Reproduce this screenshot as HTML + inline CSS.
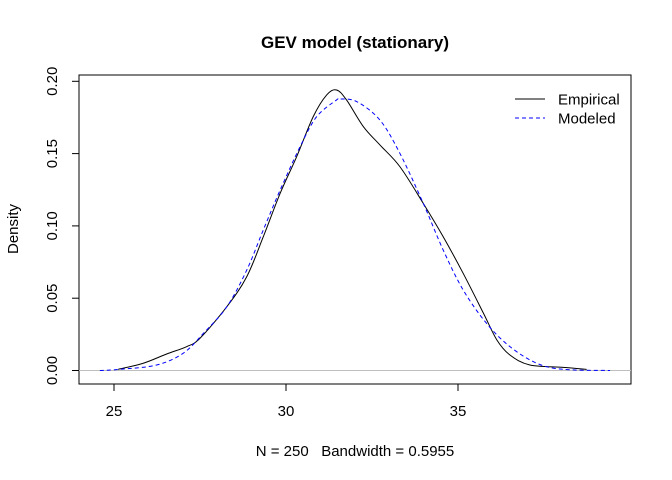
<!DOCTYPE html>
<html><head><meta charset="utf-8"><style>
body{margin:0;background:#fff}
svg{display:block;font-family:"Liberation Sans",Arial,sans-serif}
</style></head><body>
<svg width="672" height="480">
<text x="355" y="48" text-anchor="middle" font-size="17" font-weight="bold">GEV model (stationary)</text>
<rect x="79" y="75" width="552" height="309" fill="none" stroke="#000" stroke-width="1"/>
<g id="xaxis"></g>
<g id="yaxis"></g>
<line id="zero" stroke="#bebebe" stroke-width="1"/>
<path id="emp" fill="none" stroke="#000" stroke-width="1"/>
<path id="mod" fill="none" stroke="#0000ff" stroke-width="1" stroke-dasharray="4,3"/>
<text x="18" y="229" transform="rotate(-90 18 229)" text-anchor="middle" font-size="15">Density</text>
<text x="355" y="456" text-anchor="middle" font-size="15" style="white-space:pre">N = 250   Bandwidth = 0.5955</text>
<g>
<line x1="515" y1="99" x2="545" y2="99" stroke="#000"/>
<text x="558" y="104.5" font-size="15">Empirical</text>
<line x1="515" y1="118" x2="545" y2="118" stroke="#0000ff" stroke-dasharray="4,3"/>
<text x="558" y="123.5" font-size="15">Modeled</text>
</g>
</svg>
<script>
const xTicks=[25,30,35];
const yTicks=[0,0.05,0.10,0.15,0.20];
const yTickLabels=["0.00","0.05","0.10","0.15","0.20"];
const empX=[25.12,25.85,26.53,27.11,27.5,28.28,28.86,29.34,29.83,30.31,30.79,31.18,31.47,31.76,32.25,32.73,33.31,33.99,34.57,35.15,35.74,36.13,36.51,37.09,38.06,38.74];
const empY=[0.0008,0.005,0.0114,0.0165,0.0223,0.0441,0.0649,0.0925,0.1225,0.1479,0.1755,0.1905,0.194,0.1871,0.1686,0.156,0.141,0.1156,0.0925,0.0672,0.0396,0.0211,0.0107,0.0038,0.0022,0.0008];
const modX=[24.59,25.17,26.24,27.01,27.6,28.28,28.86,29.34,29.83,30.41,30.89,31.47,31.57,32.06,32.73,33.31,33.99,34.57,35.15,35.83,36.51,37.29,38.06,39.42];
const modY=[0,0.0008,0.0038,0.0119,0.0257,0.0441,0.0695,0.0972,0.1248,0.1548,0.1755,0.1871,0.1878,0.1859,0.1732,0.1502,0.1156,0.0833,0.0557,0.0326,0.0165,0.005,0.0008,0];
const X=v=>286+(v-30)*34.4;
const Y=v=>370.5-v/0.05*72.3;
const NS="http://www.w3.org/2000/svg";
function mk(t,a,p){const e=document.createElementNS(NS,t);for(const k in a)e.setAttribute(k,a[k]);p.appendChild(e);return e;}
const xa=document.getElementById('xaxis');
mk('line',{x1:X(25),x2:X(35),y1:384,y2:384,stroke:'#000'},xa);
xTicks.forEach(t=>{
 const l=mk('line',{x1:X(t),x2:X(t),y1:384,y2:391,stroke:'#000'},xa);
 
 
 const tx=mk('text',{x:X(t),y:416,'text-anchor':'middle','font-size':15},xa);tx.textContent=t;
 
 
});
const ya=document.getElementById('yaxis');
mk('line',{x1:79,x2:79,y1:Y(0),y2:Y(0.2),stroke:'#000'},ya);
yTicks.forEach((t,i)=>{
 const l=mk('line',{x1:72,x2:79,y1:Y(t),y2:Y(t),stroke:'#000'},ya);
 
 
 const tx=mk('text',{x:57,y:Y(t),'text-anchor':'middle','font-size':15,transform:`rotate(-90 57 ${Y(t)})`},ya);tx.textContent=yTickLabels[i];
 
 
});
const z=document.getElementById('zero');
z.setAttribute('x1',79);z.setAttribute('x2',631);z.setAttribute('y1',Y(0));z.setAttribute('y2',Y(0));
function path(xs,ys){
 const p=xs.map((x,i)=>[X(x),Y(ys[i])]);
 let d=`M${p[0][0]},${p[0][1]}`;
 for(let i=0;i<p.length-1;i++){
  const p0=p[Math.max(0,i-1)],p1=p[i],p2=p[i+1],p3=p[Math.min(p.length-1,i+2)];
  const c1=[p1[0]+(p2[0]-p0[0])/6,p1[1]+(p2[1]-p0[1])/6];
  const c2=[p2[0]-(p3[0]-p1[0])/6,p2[1]-(p3[1]-p1[1])/6];
  d+=` C${c1[0]},${c1[1]} ${c2[0]},${c2[1]} ${p2[0]},${p2[1]}`;
 }
 return d;
}
document.getElementById('emp').setAttribute('d',path(empX,empY));
document.getElementById('mod').setAttribute('d',path(modX,modY));
</script>
</body></html>
